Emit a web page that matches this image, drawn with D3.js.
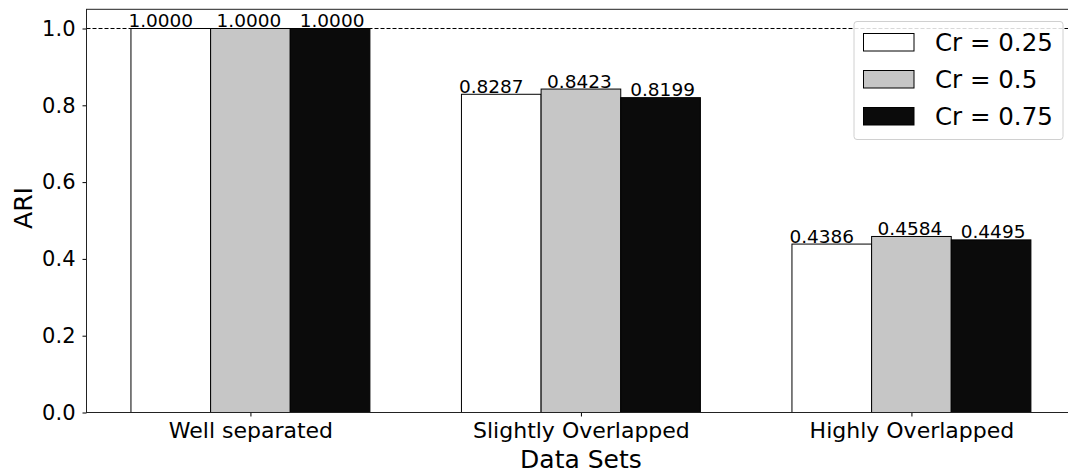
<!DOCTYPE html>
<html><head><meta charset="utf-8">
<script src="https://cdn.jsdelivr.net/npm/d3@7"></script>
<style>body{margin:0;background:#fff}svg{display:block;font-family:"DejaVu Sans",sans-serif}</style>
</head><body><svg id="c" width="1068" height="473"></svg>
<script>
const categories = ["Well separated", "Slightly Overlapped", "Highly Overlapped"];
const seriesNames = ["Cr = 0.25", "Cr = 0.5", "Cr = 0.75"];
const seriesColors = ["#ffffff", "#c6c6c6", "#0b0b0b"];
const cr025 = [1.0000, 0.8287, 0.4386];
const cr050 = [1.0000, 0.8423, 0.4584];
const cr075 = [1.0000, 0.8199, 0.4495];
const yTicks = [0.0, 0.2, 0.4, 0.6, 0.8, 1.0];
const series = [cr025, cr050, cr075];
const labelShift = [-10, -1.5, 2];

const svg = d3.select("#c");
const padL = 86.5, padT = 9.3, padB = 412.5;
const barW = 0.241;
const x = d3.scaleLinear().domain([-0.496, 2.496]).range([padL, padL + 2.992 * 330.5]);
const y = d3.scaleLinear().domain([0, 1.05]).range([padB, padT]);

// reference dashed line
svg.append("line").attr("x1", padL).attr("x2", 1068).attr("y1", y(1)).attr("y2", y(1))
  .attr("stroke", "#000").attr("stroke-width", 1).attr("stroke-dasharray", "4,2");

// bars
series.forEach((vals, si) => {
  const g = svg.append("g");
  vals.forEach((v, ci) => {
    const cx = ci + (si - 1) * barW;
    g.append("rect")
      .attr("x", x(cx - barW / 2)).attr("width", x(barW) - x(0))
      .attr("y", y(v)).attr("height", y(0) - y(v))
      .attr("fill", seriesColors[si]).attr("stroke", "#000").attr("stroke-width", 1);
  });
});
series.forEach((vals, si) => {
  vals.forEach((v, ci) => {
    const cx = ci + (si - 1) * barW;
    svg.append("text").attr("x", x(cx) + labelShift[si]).attr("y", y(v) - 1.5)
      .attr("text-anchor", "middle").attr("font-size", 18.5).attr("fill", "#000")
      .text(v.toFixed(4));
  });
});

// axes
const yAxis = d3.axisLeft(y).tickValues(yTicks).tickFormat(d3.format(".1f")).tickSize(4).tickPadding(7);
const ya = svg.append("g").attr("transform", `translate(${padL},0)`).call(yAxis);
ya.select(".domain").remove();
ya.selectAll("text").attr("font-size", 21).attr("font-family", "DejaVu Sans").attr("fill", "#000");
ya.selectAll("line").attr("stroke", "#000");

const xAxis = d3.axisBottom(x).tickValues([0, 1, 2]).tickFormat(i => categories[i]).tickSize(4).tickPadding(6);
const xa = svg.append("g").attr("transform", `translate(0,${padB})`).call(xAxis);
xa.select(".domain").remove();
xa.selectAll("text").attr("font-size", 22).attr("font-family", "DejaVu Sans").attr("fill", "#000");
xa.selectAll("line").attr("stroke", "#000");

// spines
svg.append("rect").attr("x", padL).attr("y", padT).attr("width", 1200).attr("height", padB - padT)
  .attr("fill", "none").attr("stroke", "#222").attr("stroke-width", 1);

// axis labels
svg.append("text").attr("x", x(1)).attr("y", 468).attr("text-anchor", "middle")
  .attr("font-size", 25).attr("fill", "#000").text("Data Sets");
svg.append("text").attr("transform", `translate(31.5,208) rotate(-90)`)
  .attr("text-anchor", "middle").attr("font-size", 25).attr("fill", "#000").text("ARI");

// legend
const lg = svg.append("g");
lg.append("rect").attr("x", 854).attr("y", 21.5).attr("width", 209).attr("height", 118)
  .attr("rx", 3).attr("fill", "#fff").attr("fill-opacity", 0.85).attr("stroke", "#d0d0d0");
seriesNames.forEach((n, i) => {
  const yy = 42 + i * 37;
  lg.append("rect").attr("x", 863.5).attr("y", yy - 8.5).attr("width", 50.5).attr("height", 17.5)
    .attr("fill", seriesColors[i]).attr("stroke", "#000").attr("stroke-width", 1);
  lg.append("text").attr("x", 935).attr("y", yy + 8.5).attr("font-size", 24.5).attr("fill", "#000").text(n);
});
</script></body></html>
